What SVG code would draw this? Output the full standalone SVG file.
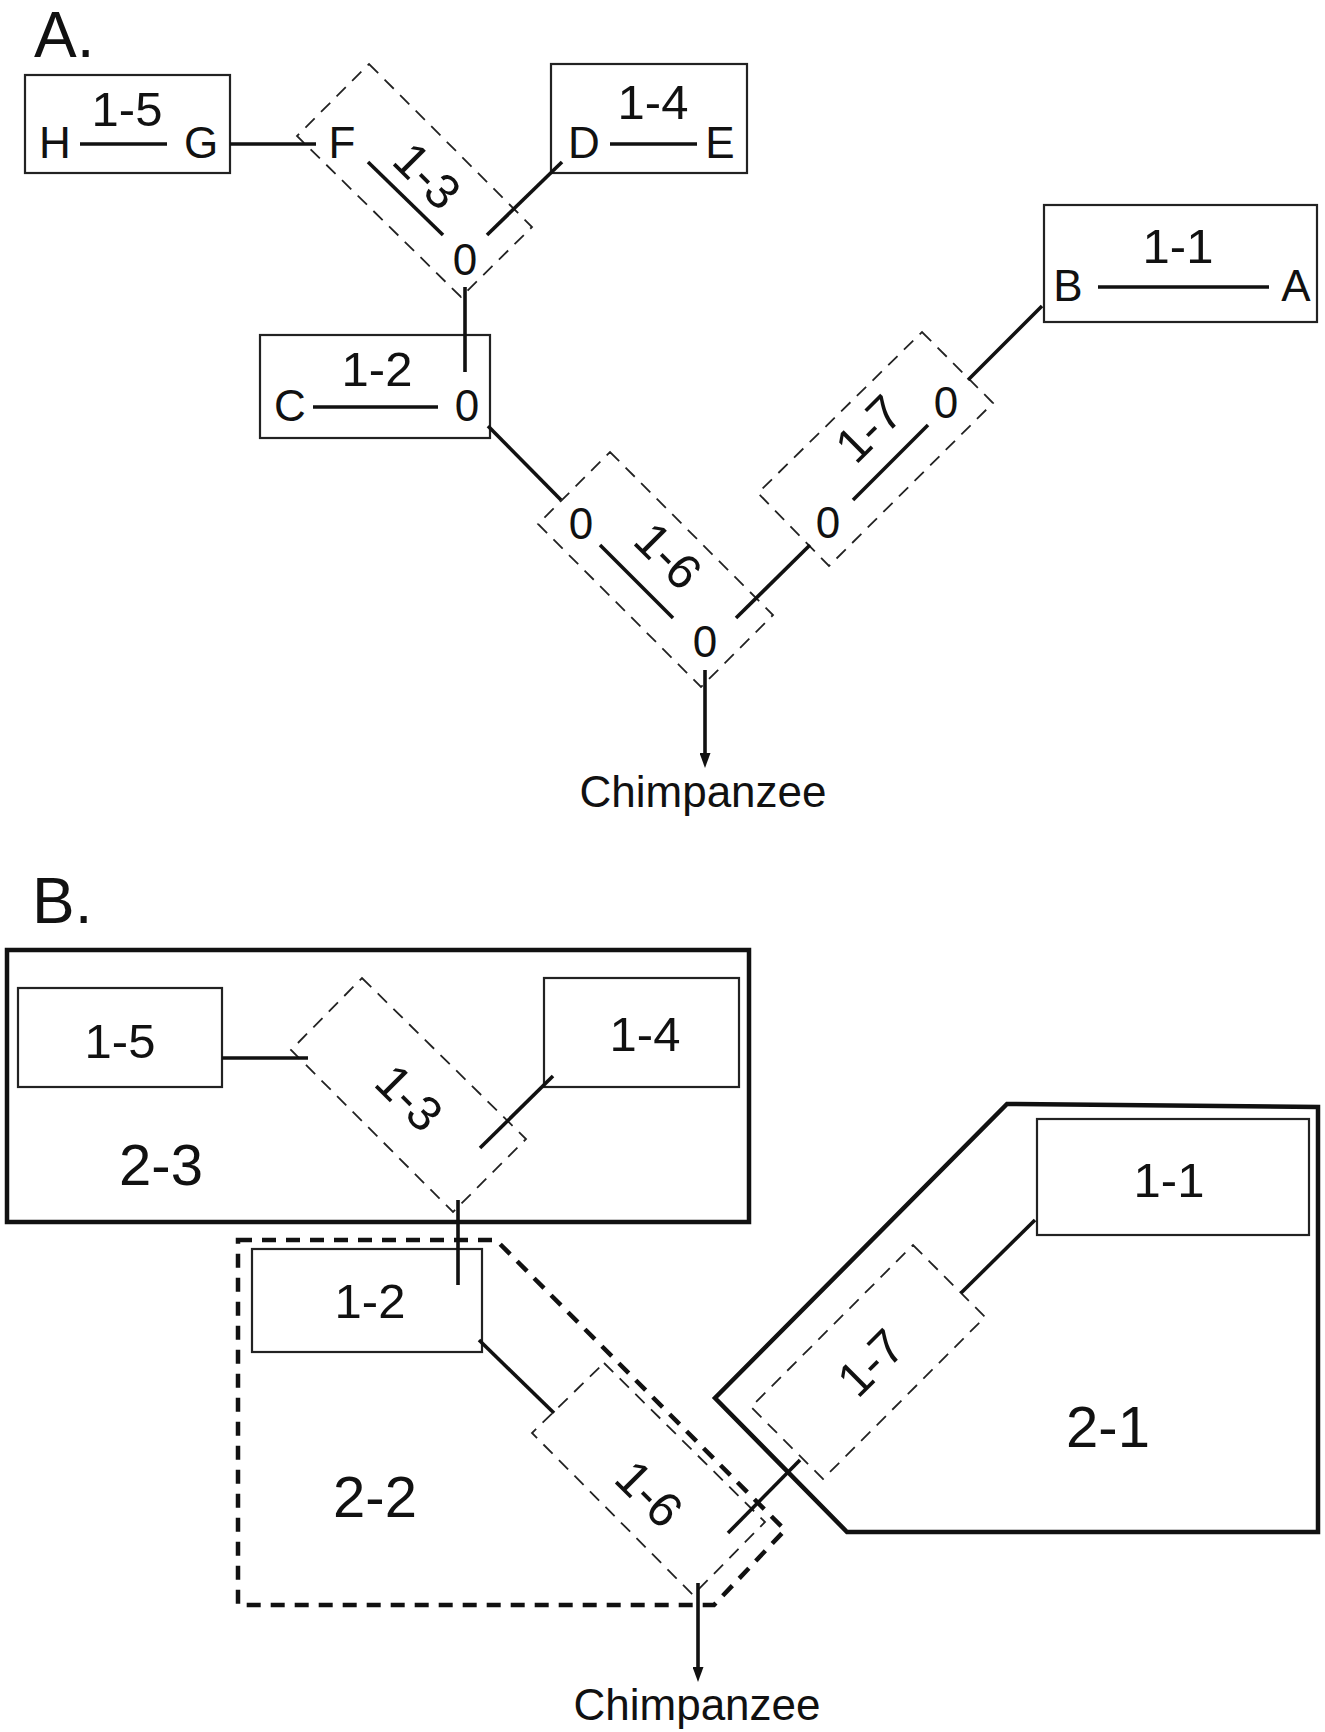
<svg xmlns="http://www.w3.org/2000/svg" width="1325" height="1732" viewBox="0 0 1325 1732">
<style>
text{font-family:"Liberation Sans",Arial,sans-serif;fill:#111;}
.lbl{font-size:49px;text-anchor:middle;}
.let{font-size:44px;text-anchor:middle;}
.big{font-size:58px;text-anchor:middle;}
.hdr{font-size:64px;}
.box{fill:none;stroke:#222;stroke-width:2.2;}
.dsh{fill:none;stroke:#222;stroke-width:1.8;stroke-dasharray:13 9;}
.thick{fill:none;stroke:#111;stroke-width:4.5;}
.thickd{fill:none;stroke:#111;stroke-width:4.5;stroke-dasharray:14 10;}
.ln{fill:none;stroke:#111;stroke-width:3.6;}
</style>
<defs>
<marker id="arr" viewBox="0 0 15 11" refX="9" refY="5.5" markerWidth="15" markerHeight="11" markerUnits="userSpaceOnUse" orient="auto">
<path d="M0,0 L15,5.5 L0,11 Z" fill="#111"/>
</marker>
</defs>

<!-- Panel A -->
<text class="hdr" x="34" y="57">A.</text>

<g id="A-1-5">
<rect class="box" x="25" y="75" width="205" height="98"/>
<text class="lbl" x="127" y="126">1-5</text>
<text class="let" x="55" y="158">H</text>
<text class="let" x="201" y="158">G</text>
<line class="ln" x1="80" y1="144" x2="167" y2="144"/>
</g>

<g id="A-1-3">
<polygon class="dsh" points="369,64 532,227 461,297 297,136"/>
<text class="let" x="342" y="158">F</text>
<line class="ln" x1="368" y1="162" x2="443" y2="235"/>
<text class="lbl" transform="translate(428,175) rotate(45)" y="18">1-3</text>
<text class="let" x="465" y="275">0</text>
</g>

<g id="A-1-4">
<rect class="box" x="551" y="64" width="196" height="109"/>
<text class="lbl" x="653" y="119">1-4</text>
<text class="let" x="584" y="158">D</text>
<text class="let" x="720" y="158">E</text>
<line class="ln" x1="610" y1="144" x2="697" y2="144"/>
</g>

<g id="A-1-1">
<rect class="box" x="1044" y="205" width="273" height="117"/>
<text class="lbl" x="1178" y="263">1-1</text>
<text class="let" x="1068" y="301">B</text>
<text class="let" x="1296" y="301">A</text>
<line class="ln" x1="1098" y1="287" x2="1269" y2="287"/>
</g>

<g id="A-1-2">
<rect class="box" x="260" y="335" width="230" height="103"/>
<text class="lbl" x="377" y="386">1-2</text>
<text class="let" x="290" y="421">C</text>
<text class="let" x="467" y="421">0</text>
<line class="ln" x1="313" y1="407" x2="438" y2="407"/>
</g>

<g id="A-1-6">
<polygon class="dsh" points="610,452 773,615 701,687 538,524"/>
<text class="let" x="581" y="539">0</text>
<line class="ln" x1="600" y1="545" x2="673" y2="618"/>
<text class="lbl" transform="translate(669,555) rotate(45)" y="18">1-6</text>
<text class="let" x="705" y="657">0</text>
</g>

<g id="A-1-7">
<polygon class="dsh" points="922,332 993,403 829,566 758,493"/>
<text class="let" x="828" y="538">0</text>
<line class="ln" x1="853" y1="500" x2="928" y2="425"/>
<text class="lbl" transform="translate(868,428) rotate(-45)" y="18">1-7</text>
<text class="let" x="946" y="418">0</text>
</g>

<g id="A-chimp">
<text class="let" x="703" y="807">Chimpanzee</text>
</g>

<g id="A-connectors">
<line class="ln" x1="230" y1="144" x2="316" y2="144"/>
<line class="ln" x1="487" y1="235" x2="562" y2="162"/>
<line class="ln" x1="465" y1="287" x2="465" y2="372"/>
<line class="ln" x1="488" y1="426" x2="561" y2="500"/>
<line class="ln" x1="736" y1="618" x2="810" y2="545"/>
<line class="ln" x1="968" y1="380" x2="1042" y2="306"/>
<line class="ln" x1="705" y1="670" x2="705" y2="762" marker-end="url(#arr)"/>
</g>

<!-- Panel B -->
<text class="hdr" x="32" y="923">B.</text>

<g id="B-2-3">
<rect class="thick" x="7" y="950" width="742" height="272"/>
<text class="big" x="161" y="1185">2-3</text>
</g>

<g id="B-2-1">
<polygon class="thick" points="1007,1104 1318,1107 1318,1532 847,1532 715,1398"/>
<text class="big" x="1108" y="1447">2-1</text>
</g>

<g id="B-2-2">
<polygon class="thickd" points="238,1240 496,1240 785,1530 714,1605 238,1605"/>
<text class="big" x="375" y="1517">2-2</text>
</g>

<g id="B-1-5">
<rect class="box" x="18" y="988" width="204" height="99"/>
<text class="lbl" x="120" y="1058">1-5</text>
</g>

<g id="B-1-4">
<rect class="box" x="544" y="978" width="195" height="109"/>
<text class="lbl" x="645" y="1051">1-4</text>
</g>

<g id="B-1-3">
<polygon class="dsh" points="362,978 526,1139 453,1212 291,1050"/>
<text class="lbl" transform="translate(410,1097) rotate(45)" y="18">1-3</text>
</g>

<g id="B-1-2">
<rect class="box" x="252" y="1249" width="230" height="103"/>
<text class="lbl" x="370" y="1318">1-2</text>
</g>

<g id="B-1-6">
<polygon class="dsh" points="604,1363 765,1522 693,1595 532,1433"/>
<text class="lbl" transform="translate(650,1493) rotate(45)" y="18">1-6</text>
</g>

<g id="B-1-1">
<rect class="box" x="1037" y="1119" width="272" height="116"/>
<text class="lbl" x="1169" y="1197">1-1</text>
</g>

<g id="B-1-7">
<polygon class="dsh" points="913,1245 985,1317 823,1479 751,1407"/>
<text class="lbl" transform="translate(870,1362) rotate(-45)" y="18">1-7</text>
</g>

<g id="B-chimp">
<text class="let" x="697" y="1720">Chimpanzee</text>
</g>

<g id="B-connectors">
<line class="ln" x1="222" y1="1058" x2="308" y2="1058"/>
<line class="ln" x1="553" y1="1076" x2="480" y2="1148"/>
<line class="ln" x1="458" y1="1200" x2="458" y2="1285"/>
<line class="ln" x1="479" y1="1340" x2="554" y2="1413"/>
<line class="ln" x1="728" y1="1533" x2="800" y2="1460"/>
<line class="ln" x1="1035" y1="1220" x2="961" y2="1293"/>
<line class="ln" x1="698" y1="1583" x2="698" y2="1676" marker-end="url(#arr)"/>
</g>
</svg>
